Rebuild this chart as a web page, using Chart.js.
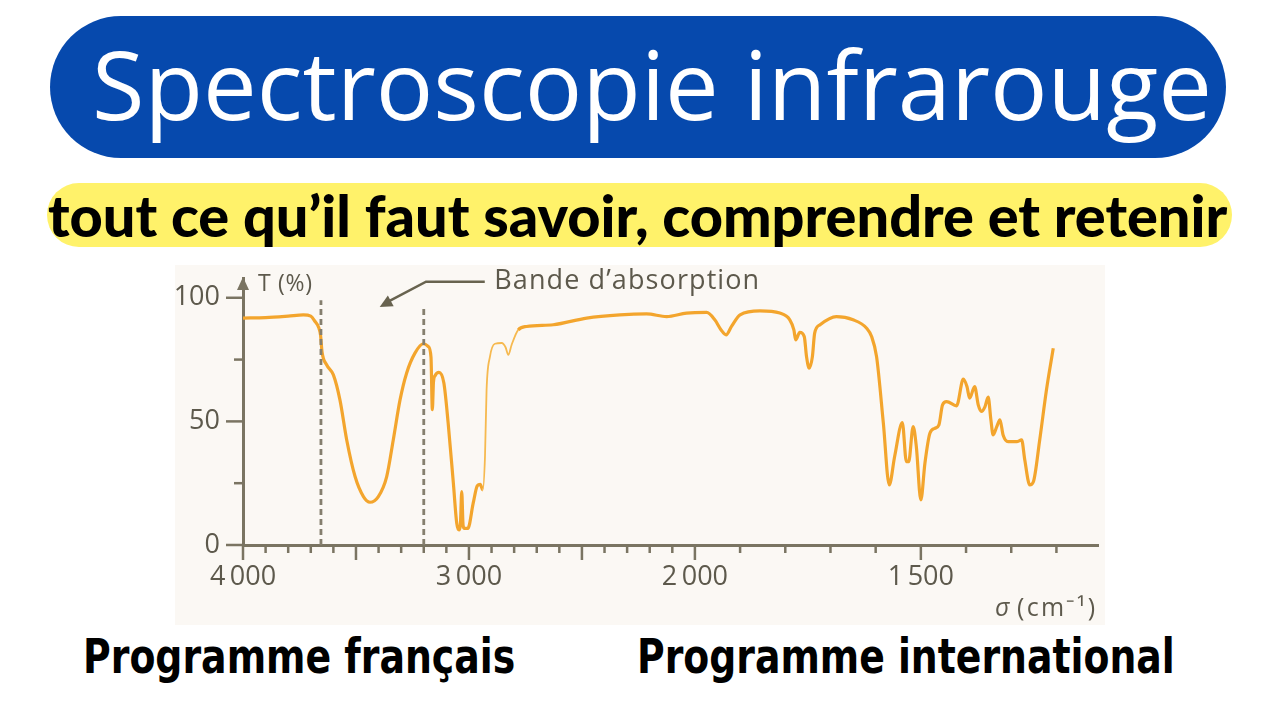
<!DOCTYPE html>
<html lang="fr">
<head>
<meta charset="UTF-8">
<title>Spectroscopie infrarouge</title>
<script src="https://cdn.jsdelivr.net/npm/chart.js"></script>
<style>
  html, body { margin: 0; padding: 0; background: #fff; }
  body { width: 1280px; height: 720px; position: relative; overflow: hidden; }
  .fit { position: absolute; white-space: nowrap; line-height: 1; }
  #title-pill { position: absolute; left: 50px; top: 16px; width: 1176px; height: 142px;
    border-radius: 71px; background: #0649ad; }
  #title { left: 92px; top: 36px; color: #fff; font-family: "Open Sans", sans-serif; font-size: 98px; }
  #sub-pill { position: absolute; left: 47px; top: 183px; width: 1185px; height: 64px;
    border-radius: 32px; background: #fff26a; }
  #subtitle { left: 48px; top: 186px; color: #000; font-family: Lato, "DejaVu Sans", sans-serif;
    font-weight: 900; font-size: 52px; }
  #box { position: absolute; left: 175px; top: 265px; width: 930px; height: 360px; background: #fbf8f4; }
  .prog { top: 633px; color: #000; font-family: "Liberation Sans Narrow", "DejaVu Sans Condensed", sans-serif;
    font-weight: bold; font-size: 48px; transform: scaleY(1.14); transform-origin: 0 0; }
</style>
</head>
<body>
  <div id="title-pill"></div>
  <span class="fit" id="title" data-w="1120">Spectroscopie infrarouge</span>
  <div id="sub-pill"></div>
  <span class="fit" id="subtitle" data-w="1180">tout ce qu’il faut savoir, comprendre et retenir</span>

  <div id="box"><canvas id="chart" width="930" height="360"></canvas></div>

  <span class="fit prog" style="left:83px" data-w="432">Programme français</span>
  <span class="fit prog" style="left:637px" data-w="538">Programme international</span>

<script>
// spectrum: wavenumber (cm-1) and transmittance (%)
const wavenumbers = [
  4000, 3900, 3800, 3733, 3700, 3681, 3665, 3657, 3650, 3630, 3600, 3571, 3541, 3504, 3467, 3438,
  3401, 3364, 3335, 3305, 3276, 3239, 3202, 3180, 3168, 3162, 3157, 3150, 3133, 3111, 3092, 3069,
  3054, 3044, 3038, 3032, 3026, 3020, 3005, 2981, 2963, 2950, 2939, 2929, 2922, 2907, 2885, 2855,
  2838, 2826, 2811, 2782, 2745, 2627, 2479, 2332, 2214, 2125, 2037, 1974, 1956, 1942, 1931, 1919,
  1900, 1856, 1812, 1790, 1781, 1777, 1768, 1758, 1753, 1747, 1740, 1735, 1723, 1687, 1650, 1620,
  1609, 1598, 1583, 1570, 1558, 1541, 1532, 1527, 1517, 1510, 1500, 1491, 1480, 1469, 1460, 1452,
  1443, 1421, 1406, 1398, 1392, 1381, 1373, 1366, 1358, 1351, 1345, 1340, 1332, 1325, 1318, 1307,
  1288, 1277, 1270, 1259, 1251, 1237, 1222, 1207
];
const transmittance = [
  91.8, 92.0, 92.6, 93.1, 92.6, 90.4, 88.0, 85.0, 78.0, 72.9, 68.8, 58.7, 42.5, 27.7, 19.6, 17.3,
  19.6, 27.7, 42.5, 58.7, 69.5, 77.6, 81.4, 80.3, 76.0, 54.7, 66.0, 68.5, 69.8, 65.5, 49.3, 25.0,
  8.8, 6.1, 8.0, 21.6, 8.0, 6.7, 6.7, 17.0, 24.0, 24.5, 22.3, 35.8, 62.8, 76.2, 81.4, 81.7,
  80.0, 76.9, 81.0, 87.0, 88.4, 89.1, 91.8, 93.1, 93.5, 92.4, 93.8, 94.1, 91.1, 87.0, 85.0, 88.4,
  93.1, 94.7, 93.8, 91.1, 87.0, 83.0, 86.0, 84.3, 76.2, 71.5, 76.2, 85.7, 89.1, 92.4, 91.1, 87.7,
  84.3, 76.2, 49.3, 24.3, 35.8, 49.5, 33.7, 33.7, 47.9, 39.8, 18.2, 33.1, 45.2, 47.2, 48.6, 56.7,
  58.0, 56.3, 67.1, 64.1, 59.4, 64.1, 56.7, 54.0, 56.0, 59.8, 50.6, 44.5, 47.9, 50.6, 44.5, 41.8,
  41.8, 42.5, 34.4, 24.3, 25.6, 42.5, 62.8, 79.6
];

// dotted markers of the two absorption band edges
const bandEdges = [3655, 3200];
const bandTops = [99, 97];

const xTicks = [4000, 3900, 3800, 3700, 3600, 3500, 3400, 3300, 3200, 3100, 3000, 2900, 2800, 2700,
  2600, 2500, 2400, 2300, 2200, 2100, 2000, 1900, 1800, 1700, 1600, 1500, 1400, 1300, 1200];
const xLabels = { 4000: '4\u2009000', 3000: '3\u2009000', 2000: '2\u2009000', 1500: '1\u2009500' };
const yTicks = [0, 12.5, 25, 37.5, 50, 62.5, 75, 87.5, 100];
const yLabels = [0, 50, 100];

const AXIS = '#7a7462';
const TEXT = '#5d594c';
const CURVE = '#f3a52d';

// fit the html titles to their widths
document.querySelectorAll('.fit').forEach(function(el) {
  const w = el.offsetWidth;
  const fs = parseFloat(getComputedStyle(el).fontSize);
  el.style.fontSize = (fs * (+el.dataset.w) / w) + 'px';
});

// IR spectra change scale at 2000 cm-1 (below it, twice as spread out)
function warp(v) { return v >= 2000 ? v : 2 * v - 2000; }
function unwarp(u) { return u >= 2000 ? u : (u + 2000) / 2; }

class WaveScale extends Chart.LinearScale {
  getPixelForValue(value) {
    if (value === null || value === undefined) return NaN;
    const u0 = warp(this.min), u1 = warp(this.max);
    return this.getPixelForDecimal((warp(value) - u0) / (u1 - u0));
  }
  getValueForPixel(pixel) {
    const u0 = warp(this.min), u1 = warp(this.max);
    return unwarp(u0 + this.getDecimalForPixel(pixel) * (u1 - u0));
  }
}
WaveScale.id = 'wave';
WaveScale.defaults = Chart.LinearScale.defaults;
Chart.register(WaveScale);

// draw text stretched to a given width
function spread(ctx, text, x, y, width) {
  ctx.letterSpacing = '0px';
  const n = text.length;
  const w = ctx.measureText(text).width;
  ctx.letterSpacing = ((width - w) / (n - 1)).toFixed(2) + 'px';
  ctx.fillText(text, x, y);
  ctx.letterSpacing = '0px';
}

const decor = {
  id: 'decor',
  afterDraw(chart) {
    const ctx = chart.ctx;
    const xs = chart.scales.x, ys = chart.scales.y;
    const area = chart.chartArea;
    ctx.save();
    ctx.strokeStyle = AXIS;
    ctx.fillStyle = AXIS;
    ctx.lineWidth = 2.5;
    // tick marks
    xs.ticks.forEach(function(t) {
      const px = xs.getPixelForValue(t.value);
      const len = t.value % 500 === 0 ? 15 : 8;
      ctx.beginPath();
      ctx.moveTo(px, area.bottom);
      ctx.lineTo(px, area.bottom + len);
      ctx.stroke();
    });
    ys.ticks.forEach(function(t) {
      const py = ys.getPixelForValue(t.value);
      const len = t.value % 50 === 0 ? 17 : 9;
      ctx.beginPath();
      ctx.moveTo(area.left, py);
      ctx.lineTo(area.left - len, py);
      ctx.stroke();
    });
    // arrow on the y axis
    ctx.beginPath();
    ctx.moveTo(area.left, area.top - 1);
    ctx.lineTo(area.left - 6, area.top + 12);
    ctx.lineTo(area.left + 6, area.top + 12);
    ctx.closePath();
    ctx.fill();

    // annotation "Bande d'absorption"
    const yA = ys.getPixelForValue(106.5);
    const tipX = xs.getPixelForValue(3395), tipY = ys.getPixelForValue(96.3);
    const elbowX = xs.getPixelForValue(3190);
    ctx.strokeStyle = '#68634f';
    ctx.fillStyle = '#68634f';
    ctx.lineWidth = 2.5;
    ctx.beginPath();
    ctx.moveTo(xs.getPixelForValue(2930), yA);
    ctx.lineTo(elbowX, yA);
    ctx.lineTo(tipX + 8, tipY - 5);
    ctx.stroke();
    const ang = Math.atan2(tipY - yA, tipX - elbowX);
    ctx.beginPath();
    ctx.moveTo(tipX, tipY);
    ctx.lineTo(tipX - 14 * Math.cos(ang - 0.45), tipY - 14 * Math.sin(ang - 0.45));
    ctx.lineTo(tipX - 14 * Math.cos(ang + 0.45), tipY - 14 * Math.sin(ang + 0.45));
    ctx.closePath();
    ctx.fill();

    ctx.fillStyle = TEXT;
    ctx.textBaseline = 'middle';
    ctx.textAlign = 'left';
    ctx.font = '27px "Open Sans", sans-serif';
    spread(ctx, 'Bande d\u2019absorption', xs.getPixelForValue(2888), yA, 265);
    ctx.font = '23px "Open Sans", sans-serif';
    spread(ctx, 'T (%)', area.left + 15, area.top + 6, 54);
    ctx.font = 'italic 25px "Open Sans", sans-serif';
    ctx.fillText('\u03c3', chart.width - 110, chart.height - 16);
    ctx.font = '25px "Open Sans", sans-serif';
    spread(ctx, '(cm\u207b\u00b9)', chart.width - 88, chart.height - 16, 78);
    ctx.restore();
  }
};

const spectrum = wavenumbers.map(function(w, i) { return { x: w, y: transmittance[i] }; });
const datasets = bandEdges.map(function(w, i) {
  return {
    data: [{ x: w, y: 0 }, { x: w, y: bandTops[i] }],
    borderColor: '#857f6e',
    borderWidth: 2.8,
    borderDash: [6, 4],
    pointRadius: 0
  };
});
// the 2940-2790 stretch is drawn thinner and paler, as in the picture
function thinPart(c) {
  const a = c.p0.parsed.x;
  return a <= 2939 && a > 2790;
}
datasets.push({
  data: spectrum,
  borderColor: CURVE,
  borderWidth: 3.2,
  pointRadius: 0,
  cubicInterpolationMode: 'monotone',
  segment: {
    borderWidth: function(c) { return thinPart(c) ? 1.8 : 3.2; },
    borderColor: function(c) { return thinPart(c) ? '#f6b94f' : CURVE; }
  }
});

new Chart(document.getElementById('chart'), {
  type: 'line',
  data: { datasets: datasets },
  options: {
    responsive: false,
    animation: false,
    layout: { padding: { top: 13, right: 7, left: 0, bottom: 0 } },
    plugins: { legend: { display: false }, tooltip: { enabled: false } },
    scales: {
      x: {
        type: 'wave',
        min: 1108,
        max: 4000,
        reverse: true,
        afterBuildTicks: function(s) { s.ticks = xTicks.map(function(v) { return { value: v }; }); },
        afterFit: function(s) { s.height = 80; s.paddingLeft = 0; s.paddingRight = 0; },
        grid: { drawOnChartArea: false, drawTicks: false },
        border: { display: true, color: AXIS, width: 3 },
        ticks: {
          autoSkip: false,
          maxRotation: 0,
          padding: 16,
          color: TEXT,
          font: { family: '"Open Sans", sans-serif', size: 27 },
          callback: function(v) { return xLabels[v] || ''; }
        }
      },
      y: {
        min: 0,
        max: 108,
        afterBuildTicks: function(s) { s.ticks = yTicks.map(function(v) { return { value: v }; }); },
        afterFit: function(s) { s.width = 68; s.paddingTop = 0; s.paddingBottom = 0; },
        grid: { drawOnChartArea: false, drawTicks: false },
        border: { display: true, color: AXIS, width: 3 },
        ticks: {
          padding: 23,
          color: TEXT,
          font: { family: '"Open Sans", sans-serif', size: 27 },
          callback: function(v) { return yLabels.indexOf(v) >= 0 ? String(v) : ''; }
        }
      }
    }
  },
  plugins: [decor]
});
</script>
</body>
</html>
